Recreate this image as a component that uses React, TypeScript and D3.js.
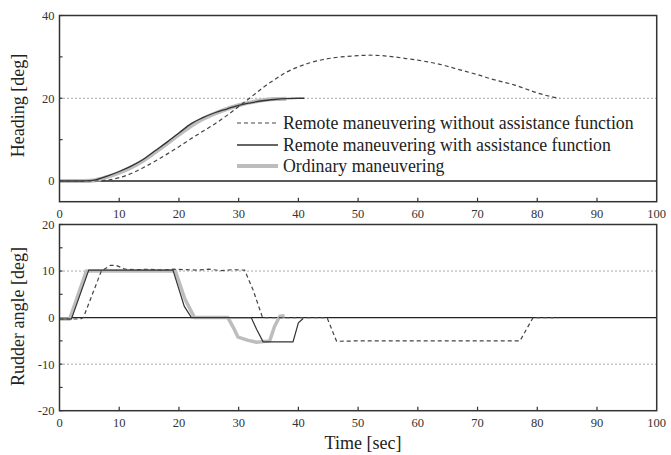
import React from "react";
import * as d3 from "d3";

// ---------- data ----------
const xTicks = [0, 10, 20, 30, 40, 50, 60, 70, 80, 90, 100];
const headingTickLabels = [0, 20, 40];
const headingMinorTicks = [10, 30];
const rudderTickLabels = [-20, -10, 0, 10, 20];
const rudderMinorTicks = [-15, -5, 5, 15];

const legendLabels = [
  "Remote maneuvering without assistance function",
  "Remote maneuvering with assistance function",
  "Ordinary maneuvering",
];

// Heading [deg]
const headWithoutT = [0, 2, 4, 6, 8, 10, 12, 14, 16, 18, 20, 22, 24, 26, 28, 30, 32, 34, 36, 38, 40, 42, 44, 46, 48, 50, 52, 54, 56, 58, 60, 62, 64, 66, 68, 70, 72, 74, 76, 78, 80, 82, 83.7];
const headWithoutV = [0, 0, 0, 0, 0.2, 0.8, 1.8, 3.2, 4.8, 6.5, 8.3, 10.2, 12, 13.8, 15.8, 18, 20.2, 22.5, 24.5, 26.3, 27.6, 28.6, 29.3, 29.8, 30.1, 30.3, 30.4, 30.3, 30, 29.6, 29.2, 28.7, 28.1, 27.3, 26.5, 25.7, 24.8, 24.0, 23.3, 22.3, 21.3, 20.5, 20];

const headWithT = [0, 2, 4, 5, 6, 8, 10, 12, 14, 16, 18, 20, 22, 24, 26, 28, 30, 32, 34, 36, 38, 40, 41];
const headWithV = [0, 0, 0, 0.1, 0.3, 1.2, 2.3, 3.6, 5.2, 7.3, 9.4, 11.6, 13.8, 15.3, 16.5, 17.4, 18.3, 18.9, 19.4, 19.7, 19.9, 20, 20];

const headOrdT = [0, 2, 4, 6, 8, 10, 12, 14, 16, 18, 20, 22, 24, 26, 28, 30, 32, 34, 36, 38];
const headOrdV = [0, 0, 0, 0.2, 1.0, 2.0, 3.3, 4.9, 6.9, 9.0, 11.2, 13.3, 15.0, 16.3, 17.4, 18.3, 19.0, 19.5, 19.8, 19.9];

// Rudder angle [deg]
const rudWithoutT = [0, 3.5, 4, 5.5, 7, 8.5, 9.5, 11, 13, 15, 17, 19, 21, 23, 25, 27, 29, 31, 32.4, 34, 38, 42, 44.8, 46.4, 50, 60, 70, 77.1, 79.3, 83.5];
const rudWithoutV = [-0.3, -0.3, 0, 5, 10, 11.2, 11.2, 10.4, 10.3, 10.4, 10.2, 10.4, 10.3, 10.2, 10.4, 10.1, 10.3, 10.2, 6, 0, 0, 0, 0, -5.1, -5, -5, -5, -5, 0, 0];

const rudWithT = [0, 2, 4.9, 19, 20.9, 22.1, 32.1, 33, 34.1, 39.1, 40, 40.8];
const rudWithV = [-0.3, -0.3, 10.2, 10.2, 2.4, 0, 0, -2.5, -5.2, -5.2, -1.1, -0.2];

const rudOrdT = [0, 1.7, 4.5, 19.4, 21, 22.6, 28.2, 29.3, 29.9, 31.6, 33, 35.2, 36, 36.9, 37.7];
const rudOrdV = [-0.3, -0.3, 10, 10, 4, 0, 0, -2.6, -4.2, -4.9, -5.3, -5, -1.9, 0.3, 0.4];

// ---------- layout ----------
const W = 671;
const H = 455;
const X0 = 59.5;
const X1 = 656.7;
const TOP = { y0: 15.5, y1: 201.7, min: -5, max: 40 };
const BOT = { y0: 224.5, y1: 410.7, min: -20, max: 20 };
const FONT = "'Liberation Serif', 'Times New Roman', serif";

const DASH_COLOR = "#444";
const SOLID_COLOR = "#333";
const GRAY_COLOR = "#bdbdbd";

const x = d3.scaleLinear().domain([0, 100]).range([X0, X1]);
const yTop = d3.scaleLinear().domain([TOP.min, TOP.max]).range([TOP.y1, TOP.y0]);
const yBot = d3.scaleLinear().domain([BOT.min, BOT.max]).range([BOT.y1, BOT.y0]);

function path(ts: number[], vs: number[], y: d3.ScaleLinear<number, number>) {
  const pts: [number, number][] = ts.map((t, i) => [t, vs[i]]);
  return (
    d3
      .line<[number, number]>()
      .x((d) => x(d[0]))
      .y((d) => y(d[1]))
      .curve(d3.curveMonotoneX)(pts) || ""
  );
}
function linPath(ts: number[], vs: number[], y: d3.ScaleLinear<number, number>) {
  const pts: [number, number][] = ts.map((t, i) => [t, vs[i]]);
  return (
    d3
      .line<[number, number]>()
      .x((d) => x(d[0]))
      .y((d) => y(d[1]))(pts) || ""
  );
}

function Panel({
  y,
  y0,
  y1,
  labels,
  minor,
  dotted,
}: {
  y: d3.ScaleLinear<number, number>;
  y0: number;
  y1: number;
  labels: number[];
  minor: number[];
  dotted: number[];
}) {
  return (
    <g>
      {dotted.map((v) => (
        <line key={"d" + v} x1={X0} x2={X1} y1={y(v)} y2={y(v)} stroke="#555" strokeWidth={1} strokeDasharray="1 3" />
      ))}
      <line x1={X0} x2={X1} y1={y(0)} y2={y(0)} stroke="#222" strokeWidth={1.3} />
      {xTicks
        .filter((t) => t > 0 && t < 100)
        .map((t) => (
          <line key={"xt" + t} x1={x(t)} x2={x(t)} y1={y1} y2={y1 - 4} stroke="#333" strokeWidth={1.2} />
        ))}
      {[...labels, ...minor].map((v) => (
        <line key={"yt" + v} x1={X0} x2={X0 + 3} y1={y(v)} y2={y(v)} stroke="#333" strokeWidth={1.2} />
      ))}
      {xTicks.map((t) => (
        <text key={"xl" + t} x={x(t)} y={y1 + 16} textAnchor="middle" fontSize={12.5} fill="#333" fontFamily={FONT}>
          {t}
        </text>
      ))}
      {labels.map((v) => (
        <text key={"yl" + v} x={X0 - 5} y={y(v)} dy="0.35em" textAnchor="end" fontSize={12.5} fill="#333" fontFamily={FONT}>
          {v}
        </text>
      ))}
    </g>
  );
}

export default function App() {
  const legY = [123, 145, 166];
  return (
    <svg
      width={W}
      height={H}
      viewBox={`0 0 ${W} ${H}`}
      style={{ position: "absolute", left: 0, top: 0, background: "#fff" }}
    >
      <rect width={W} height={H} fill="#fff" />
      {/* top panel */}
      <Panel y={yTop} y0={TOP.y0} y1={TOP.y1} labels={headingTickLabels} minor={headingMinorTicks} dotted={[20]} />
      <path d={path(headOrdT, headOrdV, yTop)} fill="none" stroke={GRAY_COLOR} strokeWidth={4} />
      <path d={path(headWithT, headWithV, yTop)} fill="none" stroke={SOLID_COLOR} strokeWidth={1.3} />
      <path d={path(headWithoutT, headWithoutV, yTop)} fill="none" stroke={DASH_COLOR} strokeWidth={1.2} strokeDasharray="4 3" />
      <rect x={X0} y={TOP.y0} width={X1 - X0} height={TOP.y1 - TOP.y0} fill="none" stroke="#333" strokeWidth={1.5} />

      {/* legend */}
      <line x1={237} x2={278} y1={legY[0]} y2={legY[0]} stroke={DASH_COLOR} strokeWidth={1.2} strokeDasharray="4 3" />
      <line x1={237} x2={278} y1={legY[1]} y2={legY[1]} stroke={SOLID_COLOR} strokeWidth={1.3} />
      <line x1={237} x2={278} y1={legY[2]} y2={legY[2]} stroke={GRAY_COLOR} strokeWidth={4} />
      {legendLabels.map((l, i) => (
        <text key={l} x={283} y={legY[i]} dy="0.33em" fontSize={17.8} fill="#222" fontFamily={FONT}>
          {l}
        </text>
      ))}

      {/* bottom panel */}
      <Panel y={yBot} y0={BOT.y0} y1={BOT.y1} labels={rudderTickLabels} minor={rudderMinorTicks} dotted={[10, -10]} />
      <path d={linPath(rudOrdT, rudOrdV, yBot)} fill="none" stroke={GRAY_COLOR} strokeWidth={3.5} strokeLinejoin="round" />
      <path d={linPath(rudWithT, rudWithV, yBot)} fill="none" stroke={SOLID_COLOR} strokeWidth={1.2} />
      <path d={linPath(rudWithoutT, rudWithoutV, yBot)} fill="none" stroke={DASH_COLOR} strokeWidth={1.2} strokeDasharray="4 3" />
      <rect x={X0} y={BOT.y0} width={X1 - X0} height={BOT.y1 - BOT.y0} fill="none" stroke="#333" strokeWidth={1.5} />

      {/* axis titles */}
      <text
        transform={`translate(24,${(TOP.y0 + TOP.y1) / 2 - 3}) rotate(-90)`}
        textAnchor="middle"
        fontSize={18}
        fill="#222"
        fontFamily={FONT}
      >
        Heading [deg]
      </text>
      <text
        transform={`translate(24,${(BOT.y0 + BOT.y1) / 2 - 1}) rotate(-90)`}
        textAnchor="middle"
        fontSize={18}
        fill="#222"
        fontFamily={FONT}
      >
        Rudder angle [deg]
      </text>
      <text x={363} y={449} textAnchor="middle" fontSize={18} fill="#222" fontFamily={FONT}>
        Time [sec]
      </text>
    </svg>
  );
}
